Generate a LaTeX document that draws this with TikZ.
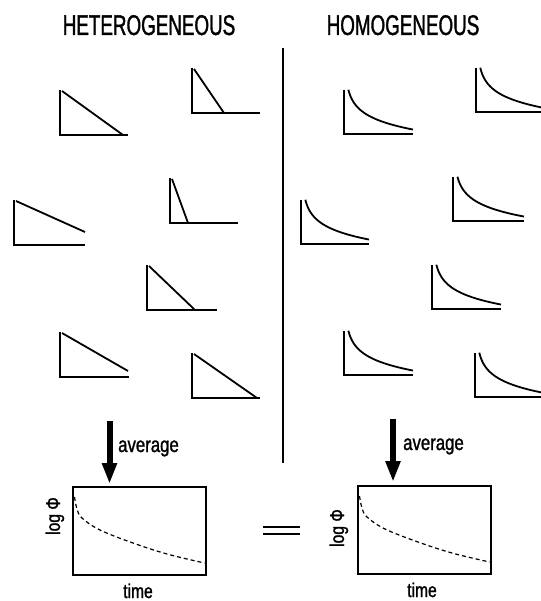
\documentclass[tikz,border=0pt]{standalone}
\usepackage{fontspec}
\setmainfont{Liberation Sans}
\newfontfamily\ttlfont[FakeStretch=0.66, FakeBold=1.2]{Liberation Sans}
\newfontfamily\lblfont[FakeStretch=0.78, FakeBold=1.2]{Liberation Sans}
\usetikzlibrary{arrows.meta}
\tikzset{
  ax/.style={line width=1.8pt},
  crv/.style={line width=1.8pt},
  divl/.style={line width=1.6pt},
  boxst/.style={draw, line width=1.4pt, minimum width=133pt, minimum height=88pt, inner sep=0pt},
  dcrv/.style={line width=1.2pt, dash pattern=on 4pt off 3pt},
  avgarrow/.style={line width=6pt, -{Triangle[length=21pt,width=14pt]}},
  ttl/.style={font=\ttlfont\fontsize{28.5}{30}\selectfont, inner sep=0pt},
  lbl/.style={font=\lblfont\fontsize{21.5}{24}\selectfont, inner sep=0pt},
  smalllbl/.style={font=\lblfont\fontsize{20}{22}\selectfont, inner sep=0pt},
  eqline/.style={line width=1.4pt}
}
% triangle plot: x0, yb, xr, hx2, hy2 (hypotenuse end)
\newcommand\tri[5]{%
  \draw[ax] (#1,#2-45) -- (#1,#2) -- (#3,#2);
  \draw[ax] (#1+2,#2-44) -- (#4,#5);
}
% hyperbolic-like plot: x0, yb, xr
\newcommand\hyp[3]{%
  \draw[ax] (#1,#2-44) -- (#1,#2) -- (#3,#2);
  \draw[crv] plot[domain=0.035:1, samples=60]
    ({#1+2+(#3-#1-2)*\x}, {#2-(44/42)*(57.6-12.6*ln(68*\x+1))});
}
\begin{document}
\begin{tikzpicture}[x=1pt, y=-1pt]
\useasboundingbox (0,0) rectangle (540,601);

% titles
\node[ttl, anchor=base] (tHet) at (149,35) {HETEROGENEOUS};
\node[ttl, anchor=base] (tHom) at (403,35) {HOMOGENEOUS};

% divider
\coordinate (dTop) at (283,48);
\coordinate (dBot) at (283,463);
\draw[divl] (dTop) -- (dBot);

% heterogeneous: triangles
\tri{60}{135}{128}{123}{135}
\tri{192}{113}{260}{224}{113}
\tri{14}{245}{85}{85}{232}
\tri{170}{223}{238}{188}{223}
\tri{147}{310}{217}{195}{310}
\tri{60}{377}{129}{128}{371}
\tri{192}{398}{260}{257}{398}

% homogeneous: decays
\hyp{344}{134}{413}
\hyp{476}{112}{542}
\hyp{301}{244}{369}
\hyp{453}{221}{524}
\hyp{432}{309}{501}
\hyp{344}{375}{413}
\hyp{475}{397}{542}

% bottom boxes
\node[boxst] (boxL) at (139.5,531) {};
\node[boxst] (boxR) at (424.5,530) {};

\draw[dcrv] plot[smooth, tension=0.6] coordinates
  {(74.5,497) (77,509) (82,518) (100,530) (133,543) (167,554) (204.5,563)};
\begin{scope}[shift={(285,-1)}]
\draw[dcrv] plot[smooth, tension=0.6] coordinates
  {(74.5,497) (77,509) (82,518) (100,530) (133,543) (167,554) (204.5,563)};
\end{scope}

% arrows
\coordinate (aL1) at (109.5,421);
\coordinate (aL2) at (109.5,484);
\coordinate (aR1) at (393,419);
\coordinate (aR2) at (393,482);
\draw[avgarrow] (aL1) -- (aL2);
\draw[avgarrow] (aR1) -- (aR2);
\node[lbl, anchor=base west] (avgL) at (118,452) {average};
\node[lbl, anchor=base west] (avgR) at (403,450) {average};

% axis labels
\node[smalllbl, anchor=base] (timeL) at (138,598) {time};
\node[smalllbl, anchor=base] (timeR) at (422,597) {time};
\node[smalllbl, rotate=90, anchor=base] (logL) at (60,516) {log Φ};
\node[smalllbl, rotate=90, anchor=base] (logR) at (344,528) {log Φ};

% equals sign
\coordinate (e1a) at (263,527);
\coordinate (e1b) at (300,527);
\coordinate (e2a) at (263,534);
\coordinate (e2b) at (300,534);
\draw[eqline] (e1a) -- (e1b);
\draw[eqline] (e2a) -- (e2b);
\end{tikzpicture}
\end{document}
